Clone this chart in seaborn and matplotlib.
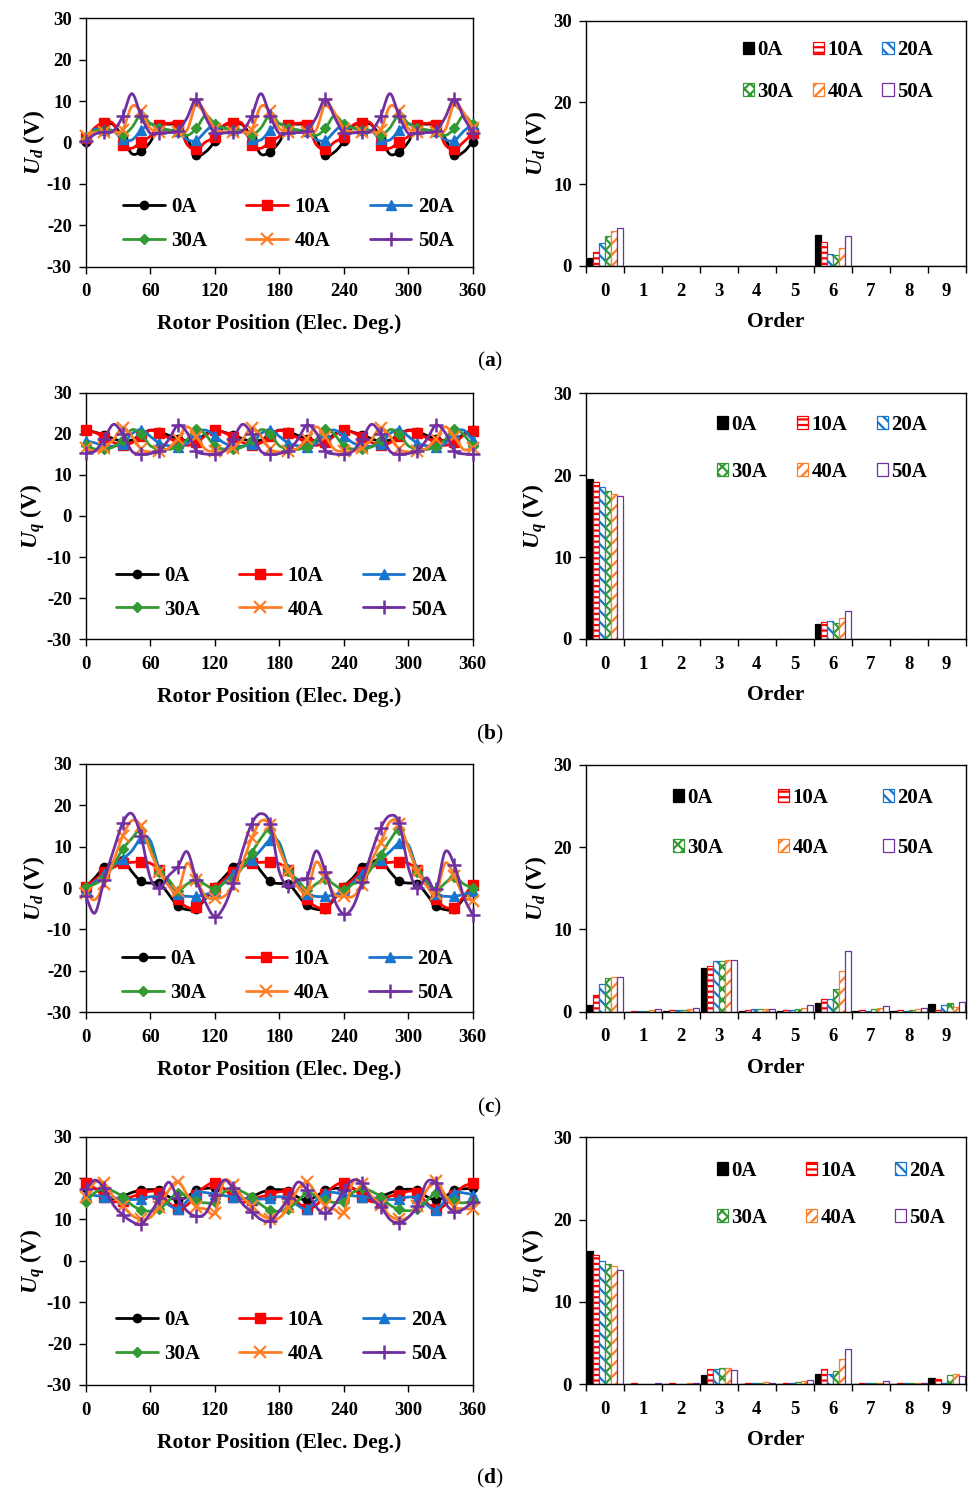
import numpy as np
import pandas as pd
import matplotlib
matplotlib.use("Agg")
import matplotlib.pyplot as plt
import seaborn as sns
from matplotlib.lines import Line2D
from matplotlib.patches import Patch

sns.set_theme(style="white")
plt.rcParams.update({
    "font.family": ["Liberation Serif", "DejaVu Serif"],
    "font.weight": "bold",
    "axes.labelweight": "bold",
    "axes.unicode_minus": False,
    "mathtext.fontset": "custom",
    "mathtext.rm": "Liberation Serif:bold",
    "mathtext.it": "Liberation Serif:italic:bold",
    "mathtext.bf": "Liberation Serif:bold",
    "hatch.linewidth": 1.6,
    "axes.edgecolor": "black",
    "axes.linewidth": 1.0,
    "xtick.color": "black",
    "ytick.color": "black",
    "text.color": "black",
    "axes.labelcolor": "black",
})

# ---------------- data ----------------
CURRENTS = ["0A", "10A", "20A", "30A", "40A", "50A"]
ORDERS = ["0", "1", "2", "3", "4", "5", "6", "7", "8", "9"]

# rotor position samples (electrical degrees)
POS = [0, 8.57, 17.14, 25.71, 34.29, 42.86, 51.43,
       60, 68.57, 77.14, 85.71, 94.29, 102.86, 111.43,
       120, 128.57, 137.14, 145.71, 154.29, 162.86, 171.43,
       180, 188.57, 197.14, 205.71, 214.29, 222.86, 231.43,
       240, 248.57, 257.14, 265.71, 274.29, 282.86, 291.43,
       300, 308.57, 317.14, 325.71, 334.29, 342.86, 351.43,
       360]

# (a) Ud waveforms
ud_a_0A = [0.2, 3.0, 4.5, 4.3, 1.2, -2.7, -2.1,
           0.1, 4.1, 4.4, 4.2, 1.0, -3.0, -2.3,
           0.3, 4.0, 4.5, 4.3, 1.2, -2.8, -2.2,
           0.1, 4.1, 4.4, 4.2, 1.0, -3.0, -2.3,
           0.3, 4.0, 4.5, 4.3, 1.2, -2.8, -2.2,
           0.1, 4.1, 4.4, 4.2, 1.0, -3.0, -2.3,
           0.2]
ud_a_10A = [1.0, 3.6, 4.8, 4.5, -0.6, -1.4, 0.2,
            1.5, 4.3, 4.6, 4.3, -0.5, -1.6, 0.1,
            1.4, 4.2, 4.8, 4.5, -0.6, -1.4, 0.2,
            1.5, 4.3, 4.6, 4.3, -0.5, -1.6, 0.1,
            1.4, 4.2, 4.8, 4.5, -0.6, -1.4, 0.2,
            1.5, 4.3, 4.6, 4.3, -0.5, -1.6, 0.1,
            2.2]
ud_a_20A = [1.3, 3.2, 3.1, 2.8, 0.8, 0.6, 2.9,
            4.5, 3.5, 3.0, 2.7, 0.7, 0.5, 2.7,
            4.4, 3.5, 3.1, 2.8, 0.8, 0.6, 2.9,
            4.5, 3.5, 3.0, 2.7, 0.7, 0.5, 2.7,
            4.4, 3.5, 3.1, 2.8, 0.8, 0.6, 2.9,
            4.5, 3.5, 3.0, 2.7, 0.7, 0.5, 2.7,
            4.5]
ud_a_30A = [1.0, 2.8, 3.1, 2.8, 1.8, 3.6, 6.7,
            4.6, 3.5, 3.0, 2.7, 1.7, 3.4, 6.5,
            4.5, 3.5, 3.1, 2.8, 1.8, 3.5, 6.7,
            4.6, 3.5, 3.0, 2.7, 1.7, 3.4, 6.5,
            4.5, 3.5, 3.1, 2.8, 1.8, 3.5, 6.7,
            4.6, 3.5, 3.0, 2.7, 1.7, 3.4, 6.5,
            4.4]
ud_a_40A = [1.5, 2.4, 2.6, 2.5, 3.1, 8.7, 7.5,
            3.4, 2.6, 2.4, 2.5, 3.0, 9.4, 7.2,
            3.3, 2.6, 2.6, 2.5, 3.1, 8.7, 7.5,
            3.4, 2.6, 2.4, 2.5, 3.0, 9.4, 7.2,
            3.3, 2.6, 2.6, 2.5, 3.1, 8.7, 7.5,
            3.4, 2.6, 2.4, 2.5, 3.0, 9.4, 7.2,
            3.6]
ud_a_50A = [0.3, 2.0, 2.5, 2.8, 6.3, 11.8, 6.4,
            2.2, 2.3, 2.4, 2.8, 6.0, 10.5, 6.1,
            2.3, 2.3, 2.5, 2.8, 6.3, 11.8, 6.4,
            2.2, 2.3, 2.4, 2.8, 6.0, 10.5, 6.1,
            2.3, 2.3, 2.5, 2.8, 6.3, 11.8, 6.4,
            2.2, 2.3, 2.4, 2.8, 6.0, 10.5, 6.1,
            2.3]

# (b) Uq waveforms
uq_b_0A = [21.0, 20.4, 19.7, 18.8, 18.2, 18.5, 19.8,
           20.9, 20.5, 19.6, 18.7, 18.3, 18.4, 19.9,
           21.0, 20.4, 19.7, 18.8, 18.2, 18.5, 19.8,
           20.9, 20.5, 19.6, 18.7, 18.3, 18.4, 19.9,
           21.0, 20.4, 19.7, 18.8, 18.2, 18.5, 19.8,
           20.9, 20.5, 19.6, 18.7, 18.3, 18.4, 19.9,
           21.0]
uq_b_10A = [21.0, 20.3, 19.2, 17.9, 17.3, 17.8, 19.5,
            20.8, 20.1, 19.0, 17.8, 17.2, 17.9, 19.6,
            21.0, 20.3, 19.2, 17.9, 17.3, 17.8, 19.5,
            20.8, 20.1, 19.0, 17.8, 17.2, 17.9, 19.6,
            21.0, 20.3, 19.2, 17.9, 17.3, 17.8, 19.5,
            20.8, 20.1, 19.0, 17.8, 17.2, 17.9, 19.6,
            20.8]
uq_b_20A = [18.3, 17.8, 17.0, 17.0, 17.5, 20.0, 21.0,
            19.4, 17.7, 17.1, 16.9, 17.6, 20.2, 20.9,
            19.5, 17.8, 17.0, 17.0, 17.5, 20.0, 21.0,
            19.4, 17.7, 17.1, 16.9, 17.6, 20.2, 20.9,
            19.5, 17.8, 17.0, 17.0, 17.5, 20.0, 21.0,
            19.4, 17.7, 17.1, 16.9, 17.6, 20.2, 20.9,
            18.5]
uq_b_30A = [17.2, 16.3, 16.3, 16.8, 18.5, 21.0, 20.0,
            17.1, 16.4, 16.2, 16.9, 18.6, 21.2, 19.8,
            17.0, 16.3, 16.3, 16.8, 18.5, 21.0, 20.0,
            17.1, 16.4, 16.2, 16.9, 18.6, 21.2, 19.8,
            17.0, 16.3, 16.3, 16.8, 18.5, 21.0, 20.0,
            17.1, 16.4, 16.2, 16.9, 18.6, 21.2, 19.8,
            17.0]
uq_b_40A = [16.5, 15.8, 16.6, 18.6, 21.5, 19.5, 16.3,
            15.6, 15.9, 16.5, 18.8, 21.7, 19.3, 16.2,
            15.7, 15.8, 16.6, 18.6, 21.5, 19.5, 16.3,
            15.6, 15.9, 16.5, 18.8, 21.7, 19.3, 16.2,
            15.7, 15.8, 16.6, 18.6, 21.5, 19.5, 16.3,
            15.6, 15.9, 16.5, 18.8, 21.7, 19.3, 16.2,
            16.5]
uq_b_50A = [15.4, 15.8, 18.8, 22.3, 20.0, 15.8, 15.0,
            15.2, 15.9, 18.6, 22.1, 20.3, 15.9, 15.1,
            15.0, 15.8, 18.8, 22.3, 20.0, 15.8, 15.0,
            15.2, 15.9, 18.6, 22.1, 20.3, 15.9, 15.1,
            15.0, 15.8, 18.8, 22.3, 20.0, 15.8, 15.0,
            15.2, 15.9, 18.6, 22.1, 20.3, 15.9, 15.1,
            15.0]

# (c) Ud waveforms
ud_c_0A = [0.2, 2.5, 5.0, 6.2, 6.8, 4.0, 1.6, 1.2, 1.2, -1.5, -4.3, -5.2, -5.0, -2.5,
           0.2, 2.6, 5.0, 6.3, 6.9, 4.1, 1.6, 1.1, 1.1, -1.6, -4.2, -5.1, -5.0, -2.6,
           0.3, 2.5, 5.1, 6.2, 6.8, 4.0, 1.7, 1.2, 1.1, -1.5, -4.3, -5.2, -5.1, -2.5,
           0.2]
ud_c_10A = [0.3, 2.0, 3.8, 5.0, 6.0, 6.2, 6.4, 6.0, 4.3, 1.0, -2.7, -4.6, -4.6, -2.2,
            0.0, 2.0, 3.9, 5.1, 6.1, 6.2, 6.3, 5.9, 4.4, 1.1, -2.6, -4.5, -4.7, -2.3,
            0.1, 2.1, 3.9, 5.0, 6.0, 6.2, 6.4, 6.0, 4.3, 1.0, -2.7, -4.6, -4.7, -2.0,
            0.8]
ud_c_20A = [-0.5, 1.5, 3.5, 5.5, 7.0, 9.0, 12.0, 11.5, 4.4, 1.0, -1.5, -2.0, -2.0, -1.5,
            -0.8, 1.4, 3.4, 5.4, 6.8, 9.2, 11.6, 11.0, 4.5, 1.1, -1.4, -2.0, -2.0, -1.6,
            -0.7, 1.4, 3.5, 5.5, 6.9, 8.8, 10.8, 10.5, 4.3, 1.0, -1.5, -2.0, -2.0, -1.5,
            -0.8]
ud_c_30A = [0.2, 1.0, 2.4, 5.5, 9.4, 12.0, 14.0, 10.0, 4.0, 2.0, -0.6, 1.0, 2.0, 0.8,
            -0.3, 1.2, 2.2, 5.0, 8.5, 12.0, 14.2, 10.2, 4.2, 2.0, -0.4, 1.0, 2.2, 0.8,
            -0.5, 1.0, 1.8, 4.8, 8.0, 11.5, 14.0, 10.0, 4.0, 1.8, -0.5, 1.2, 2.8, 1.0,
            0.0]
ud_c_40A = [-1.2, -2.8, 1.0, 6.5, 12.5, 16.3, 15.0, 9.0, 4.0, 0.5, -0.8, 6.0, 2.0, -2.0,
            -2.5, -2.0, 0.5, 6.0, 12.0, 16.2, 15.2, 9.5, 4.2, 0.3, -1.0, 6.3, 2.5, -1.5,
            -2.0, -2.0, 0.8, 6.5, 11.0, 16.0, 15.5, 9.8, 4.0, 0.5, -1.5, 6.0, 3.0, -2.0,
            -3.0]
ud_c_50A = [-2.0, -6.0, 2.0, 9.0, 15.7, 18.0, 12.5, 2.5, 0.0, 3.0, 5.2, 8.8, 2.0, -3.5,
            -6.9, -4.5, 1.2, 9.0, 15.5, 18.0, 15.5, 4.0, 0.5, 2.0, 2.5, 9.0, 4.0, -3.0,
            -6.3, -4.5, 1.5, 8.5, 14.5, 17.5, 15.8, 5.0, 0.0, 2.5, -0.3, 8.8, 5.6, -2.0,
            -6.5]

# (d) Uq waveforms
uq_d_0A = [17.5, 17.5, 16.0, 15.0, 15.5, 16.5, 17.0, 17.2, 17.0, 15.5, 14.7, 15.5, 17.0, 17.5,
           17.6, 17.4, 16.0, 15.1, 15.4, 16.5, 17.1, 17.2, 16.9, 15.4, 14.6, 15.6, 17.0, 17.5,
           17.5, 17.5, 16.1, 15.0, 15.5, 16.4, 17.0, 17.3, 17.0, 15.5, 14.7, 15.5, 17.1, 17.4,
           17.5]
uq_d_10A = [18.7, 17.5, 15.5, 14.3, 14.5, 15.5, 16.1, 16.8, 16.5, 14.0, 12.5, 13.5, 16.0, 18.0,
            18.9, 17.4, 15.4, 14.2, 14.6, 15.5, 15.9, 16.7, 16.4, 14.1, 12.6, 13.4, 16.1, 18.1,
            18.9, 17.5, 15.5, 14.3, 14.5, 15.6, 15.9, 16.8, 16.5, 14.0, 12.5, 13.5, 16.0, 18.0,
            18.7]
uq_d_20A = [16.0, 15.8, 15.5, 15.2, 15.0, 14.8, 15.0, 15.5, 15.2, 13.5, 12.5, 14.5, 16.5, 16.5,
            16.1, 15.8, 15.4, 15.1, 15.0, 14.9, 15.1, 15.5, 15.1, 13.4, 12.4, 14.6, 16.4, 16.5,
            16.0, 15.7, 15.5, 15.2, 15.0, 14.8, 15.0, 15.4, 15.2, 13.5, 12.3, 14.5, 16.5, 16.4,
            16.0]
uq_d_30A = [14.3, 16.5, 17.5, 16.8, 15.5, 13.5, 12.3, 12.0, 12.5, 14.5, 16.5, 15.5, 14.5, 14.0,
            14.2, 16.6, 17.4, 16.7, 15.4, 13.6, 12.2, 12.0, 12.6, 14.4, 16.4, 15.6, 14.6, 14.1,
            14.3, 16.5, 17.5, 16.8, 15.5, 13.5, 12.4, 12.1, 12.5, 14.5, 16.5, 15.5, 14.4, 14.0,
            14.5]
uq_d_40A = [15.5, 19.0, 18.7, 15.5, 13.3, 11.0, 10.0, 10.5, 13.1, 17.0, 19.1, 16.0, 13.1, 12.5,
            11.5, 19.2, 18.3, 15.4, 13.2, 11.1, 10.1, 10.4, 13.0, 17.2, 19.0, 16.1, 13.2, 12.4,
            11.6, 19.1, 18.6, 15.6, 13.4, 10.9, 10.0, 10.6, 13.2, 17.1, 19.2, 15.9, 13.0, 12.6,
            12.5]
uq_d_50A = [17.3, 19.5, 17.5, 13.5, 11.1, 9.5, 8.8, 11.5, 15.1, 19.0, 15.1, 12.0, 10.8, 11.5,
            15.9, 19.5, 17.5, 13.8, 11.9, 10.0, 9.6, 12.0, 15.1, 19.0, 17.1, 13.0, 11.5, 13.5,
            17.1, 19.5, 18.7, 15.0, 13.1, 10.0, 9.2, 10.5, 13.3, 19.0, 18.7, 14.0, 11.9, 12.5,
            14.3]

# harmonic spectra, orders 0..9
ha_0A = [1.0, 0, 0, 0, 0, 0, 3.8, 0, 0, 0]
ha_10A = [1.75, 0, 0, 0, 0, 0, 2.9, 0, 0, 0]
ha_20A = [2.8, 0, 0, 0, 0, 0, 1.5, 0, 0, 0]
ha_30A = [3.7, 0, 0, 0, 0, 0, 1.3, 0, 0, 0]
ha_40A = [4.3, 0, 0, 0, 0, 0, 2.2, 0, 0, 0]
ha_50A = [4.6, 0, 0, 0, 0, 0, 3.7, 0, 0, 0]

hb_0A = [19.5, 0, 0, 0, 0, 0, 1.8, 0, 0, 0]
hb_10A = [19.1, 0, 0, 0, 0, 0, 2.1, 0, 0, 0]
hb_20A = [18.6, 0, 0, 0, 0, 0, 2.2, 0, 0, 0]
hb_30A = [18.0, 0, 0, 0, 0, 0, 2.0, 0, 0, 0]
hb_40A = [17.7, 0, 0, 0, 0, 0, 2.5, 0, 0, 0]
hb_50A = [17.5, 0, 0, 0, 0, 0, 3.4, 0, 0, 0]

hc_0A = [0.8, 0.0, 0.05, 5.3, 0.05, 0.05, 1.1, 0.05, 0.05, 0.9]
hc_10A = [2.0, 0.05, 0.2, 5.5, 0.25, 0.2, 1.6, 0.2, 0.15, 0.25]
hc_20A = [3.4, 0.05, 0.25, 6.2, 0.3, 0.25, 1.5, 0.1, 0.1, 0.8]
hc_30A = [4.05, 0.1, 0.25, 6.2, 0.3, 0.35, 2.8, 0.3, 0.25, 1.0]
hc_40A = [4.2, 0.15, 0.3, 6.3, 0.35, 0.5, 5.0, 0.5, 0.3, 0.6]
hc_50A = [4.2, 0.35, 0.45, 6.3, 0.3, 0.8, 7.4, 0.7, 0.4, 1.2]

hd_0A = [16.2, 0.05, 0.05, 1.1, 0.05, 0.05, 1.2, 0.05, 0.05, 0.7]
hd_10A = [15.7, 0.1, 0.1, 1.8, 0.1, 0.2, 1.9, 0.2, 0.2, 0.6]
hd_20A = [15.0, 0.05, 0.05, 1.8, 0.1, 0.1, 1.2, 0.1, 0.1, 0.2]
hd_30A = [14.6, 0.05, 0.05, 2.0, 0.2, 0.25, 1.6, 0.1, 0.1, 1.1]
hd_40A = [14.3, 0.05, 0.1, 2.0, 0.3, 0.4, 3.1, 0.1, 0.1, 1.2]
hd_50A = [13.9, 0.1, 0.1, 1.7, 0.2, 0.5, 4.3, 0.4, 0.2, 1.0]

# ---------------- styles ----------------
BLACK, RED, BLUE, GREEN, ORANGE, PURPLE = "#000000", "#FF0000", "#1874CD", "#339933", "#FF7F27", "#7030A0"
COLORS = [BLACK, RED, BLUE, GREEN, ORANGE, PURPLE]
MARKERS = [("o", 6, 1.0), ("s", 6.5, 1.0), ("^", 7.5, 1.0), ("D", 5.5, 1.0), ("x", 8, 1.6), ("+", 9.5, 1.8)]
BAR_STYLES = [(BLACK, BLACK, ""), ("white", RED, "---"), ("white", BLUE, "\\\\\\"),
              ("white", GREEN, "xxx"), ("white", ORANGE, "///"), ("white", PURPLE, "")]
SERIF_B = dict(family="Liberation Serif", weight="bold")
LEG_ORDER = [0, 3, 1, 4, 2, 5]

TICK_FS = 13.5
XLABEL_FS = 15.5
YLABEL_FS = 17
LEGEND_FS = 15


def smooth_path(x, y, steps=12):
    """Catmull-Rom rendering of a sampled curve (smoothed line style)."""
    x = np.asarray(x, float)
    y = np.asarray(y, float)
    px = np.concatenate([[2 * x[0] - x[1]], x, [2 * x[-1] - x[-2]]])
    py = np.concatenate([[2 * y[0] - y[1]], y, [2 * y[-1] - y[-2]]])
    t = np.linspace(0, 1, steps, endpoint=False)[:, None]

    def seg(p):
        p0, p1, p2, p3 = p[:-3], p[1:-2], p[2:-1], p[3:]
        return 0.5 * (2 * p1 + (-p0 + p2) * t + (2 * p0 - 5 * p1 + 4 * p2 - p3) * t ** 2
                      + (-p0 + 3 * p1 - 3 * p2 + p3) * t ** 3)

    sx = np.append(seg(px).T.ravel(), x[-1])
    sy = np.append(seg(py).T.ravel(), y[-1])
    return sx, sy


def style_frame(ax):
    for s in ax.spines.values():
        s.set_visible(True)
        s.set_color("black")
        s.set_linewidth(1.0)


def draw_wave(ax, series, ylabel, leg_anchor):
    for i, vals in enumerate(series):
        sx, sy = smooth_path(POS, vals)
        sns.lineplot(x=sx, y=sy, ax=ax, color=COLORS[i], linewidth=2.0,
                     sort=False, estimator=None, zorder=3 + i)
        m, ms, mew = MARKERS[i]
        ax.plot(POS[::2], vals[::2], linestyle="none", marker=m, ms=ms, mew=mew,
                mfc=COLORS[i], mec=COLORS[i], clip_on=False, zorder=3 + i)
    ax.set_xlim(0, 360)
    ax.set_ylim(-30, 30)
    ax.set_xticks(range(0, 361, 60))
    ax.set_yticks(range(-30, 31, 10))
    ax.tick_params(axis="y", which="major", direction="out", length=5, width=1.0,
                   pad=5, labelsize=TICK_FS, left=True)
    ax.tick_params(axis="x", which="major", direction="out", length=5, width=1.0,
                   pad=7, labelsize=TICK_FS, bottom=True)
    ax.set_xlabel("Rotor Position (Elec. Deg.)", fontsize=XLABEL_FS, labelpad=10)
    ax.set_ylabel(ylabel, fontsize=YLABEL_FS, labelpad=0)
    style_frame(ax)
    handles = []
    for i in range(6):
        m, ms, mew = MARKERS[i]
        handles.append(Line2D([0], [0], color=COLORS[i], lw=2.0, marker=m, ms=ms,
                              mew=mew, mfc=COLORS[i], mec=COLORS[i]))
    ax.legend([handles[k] for k in LEG_ORDER], [CURRENTS[k] for k in LEG_ORDER], ncol=3,
              loc="upper left", bbox_to_anchor=leg_anchor, frameon=False,
              handlelength=2.0, handletextpad=0.3, columnspacing=1.9,
              labelspacing=0.65, borderpad=0, borderaxespad=0,
              prop=dict(size=LEGEND_FS, **SERIF_B))


def draw_spectrum(ax, table, ylabel, leg_anchor, colsp, rowsp):
    df = pd.DataFrame({
        "Order": np.tile(ORDERS, len(CURRENTS)),
        "Current": np.repeat(CURRENTS, len(ORDERS)),
        "U": np.concatenate([np.asarray(v, float) for v in table]),
    })
    sns.barplot(data=df, x="Order", y="U", hue="Current", order=ORDERS,
                hue_order=CURRENTS, palette=COLORS, width=0.96, gap=0,
                errorbar=None, saturation=1, legend=False, ax=ax)
    for cont, (fc, ec, hatch) in zip(ax.containers, BAR_STYLES):
        for bar in cont:
            bar.set_facecolor(fc)
            bar.set_edgecolor(ec)
            bar.set_hatch(hatch)
            bar.set_linewidth(0.9)
    ax.set_xlim(-0.5, 9.5)
    ax.set_ylim(0, 30)
    ax.set_yticks([0, 10, 20, 30])
    ax.set_xticks(range(10))
    ax.set_xticklabels(ORDERS)
    ax.set_xticks(np.arange(-0.5, 10, 1), minor=True)
    ax.tick_params(axis="x", which="major", length=0, pad=12, labelsize=TICK_FS, bottom=True)
    ax.tick_params(axis="x", which="minor", direction="out", length=5, width=1.0, bottom=True)
    ax.tick_params(axis="y", which="major", direction="out", length=5, width=1.0,
                   pad=5, labelsize=TICK_FS, left=True)
    ax.set_xlabel("Order", fontsize=XLABEL_FS, labelpad=9)
    ax.set_ylabel(ylabel, fontsize=YLABEL_FS, labelpad=3)
    style_frame(ax)
    handles = [Patch(facecolor=fc, edgecolor=ec, hatch=h, linewidth=0.9)
               for fc, ec, h in BAR_STYLES]
    ax.legend([handles[k] for k in LEG_ORDER], [CURRENTS[k] for k in LEG_ORDER], ncol=3,
              loc="upper left", bbox_to_anchor=leg_anchor, frameon=False,
              handlelength=0.55, handleheight=0.55, handletextpad=0.15,
              columnspacing=colsp, labelspacing=rowsp, borderpad=0, borderaxespad=0,
              prop=dict(size=LEGEND_FS, **SERIF_B))


# ---------------- figure ----------------
fig = plt.figure(figsize=(9.7, 14.95), dpi=100)

LEFT_BOX = [(0.0884, 0.8216, 0.399, 0.1662), (0.0884, 0.5724, 0.399, 0.1649),
            (0.0884, 0.3229, 0.399, 0.1661), (0.0884, 0.0736, 0.399, 0.1661)]
RIGHT_BOX = [(0.6041, 0.8221, 0.3914, 0.1641), (0.6041, 0.5726, 0.3914, 0.1644),
             (0.6041, 0.3233, 0.3914, 0.1650), (0.6041, 0.0741, 0.3914, 0.1652)]

waves = [
    [ud_a_0A, ud_a_10A, ud_a_20A, ud_a_30A, ud_a_40A, ud_a_50A],
    [uq_b_0A, uq_b_10A, uq_b_20A, uq_b_30A, uq_b_40A, uq_b_50A],
    [ud_c_0A, ud_c_10A, ud_c_20A, ud_c_30A, ud_c_40A, ud_c_50A],
    [uq_d_0A, uq_d_10A, uq_d_20A, uq_d_30A, uq_d_40A, uq_d_50A],
]
spectra = [
    [ha_0A, ha_10A, ha_20A, ha_30A, ha_40A, ha_50A],
    [hb_0A, hb_10A, hb_20A, hb_30A, hb_40A, hb_50A],
    [hc_0A, hc_10A, hc_20A, hc_30A, hc_40A, hc_50A],
    [hd_0A, hd_10A, hd_20A, hd_30A, hd_40A, hd_50A],
]
ylabels = [r"$U_d$ (V)", r"$U_q$ (V)", r"$U_d$ (V)", r"$U_q$ (V)"]
wave_leg = [(0.096, 0.279), (0.078, 0.297), (0.094, 0.253), (0.078, 0.300)]
spec_leg = [((0.4135, 0.92), 0.92, 1.05), ((0.345, 0.912), 1.41, 1.3),
            ((0.229, 0.907), 2.61, 1.45), ((0.345, 0.904), 1.84, 1.3)]
panel_tags = ["a", "b", "c", "d"]
tag_y = [0.7585, 0.509, 0.2595, 0.0113]

for r in range(4):
    axl = fig.add_axes(LEFT_BOX[r])
    draw_wave(axl, waves[r], ylabels[r], wave_leg[r])
    axr = fig.add_axes(RIGHT_BOX[r])
    anchor, colsp, rowsp = spec_leg[r]
    draw_spectrum(axr, spectra[r], ylabels[r], anchor, colsp, rowsp)
    fig.text(0.505, tag_y[r], "(" + r"$\mathbf{" + panel_tags[r] + "}$" + ")",
             ha="center", va="center", fontsize=15.5, fontweight="normal")

fig.savefig("out.png", dpi=100, facecolor="white")
